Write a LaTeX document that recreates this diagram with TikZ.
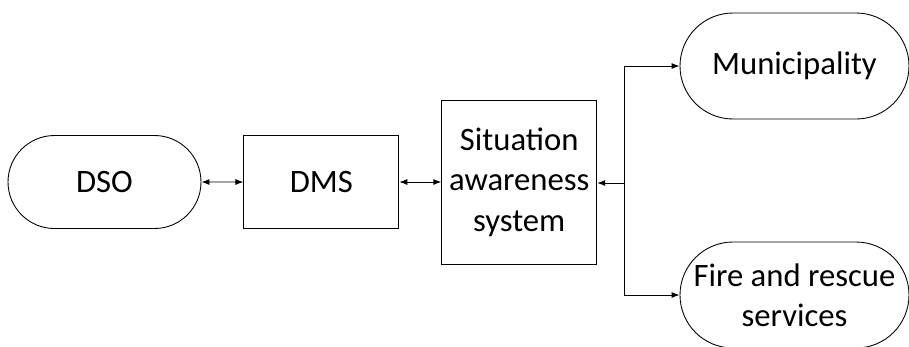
\documentclass[tikz,border=0pt]{standalone}
\usepackage{fontspec}
\setmainfont{Carlito}
\usetikzlibrary{positioning,shapes.misc,arrows.meta}

\begin{document}
\begin{tikzpicture}[node distance={8.4mm},
  term/.style = {draw, line width=0.5pt, rounded rectangle, minimum width=3.86cm, minimum height=1.86cm, align=center, inner sep=0pt},
  box/.style = {draw, line width=0.5pt, rectangle, minimum width=3.1cm, minimum height=1.86cm, align=center, inner sep=0pt},
  arr/.style = {line width=0.5pt, -{Latex[length=1.6mm,width=1.2mm]}},
  both/.style = {line width=0.5pt, {Latex[length=1.6mm,width=1.2mm]}-{Latex[length=1.6mm,width=1.2mm]}},
  font=\fontsize{18.6}{23}\selectfont]
\useasboundingbox (0,0) rectangle (18.18,-6.92);
\node[term] (dso) at (2.09,-3.64) {DSO};
\node[box] (dms) [right=of dso] {DMS};
\node[box, minimum height=3.28cm] (sa) [right=of dms] {Situation\\awareness\\system};
\node[term, minimum width=4.58cm, minimum height=2.12cm] (mun) at (15.89,-1.32) {Municipality};
\node[term, minimum width=4.58cm, minimum height=2.12cm] (fire) at (15.89,-5.9) {Fire and rescue\\services};
\coordinate (branch) at (12.48,-3.66);

\draw[both] (dso) -- (dms);
\draw[both] (dms) -- (sa);
\draw[arr] (branch) -- (sa.east |- branch);
\draw[arr] (branch) |- (mun.west);
\draw[arr] (branch) |- (fire.west);
\end{tikzpicture}
\end{document}
